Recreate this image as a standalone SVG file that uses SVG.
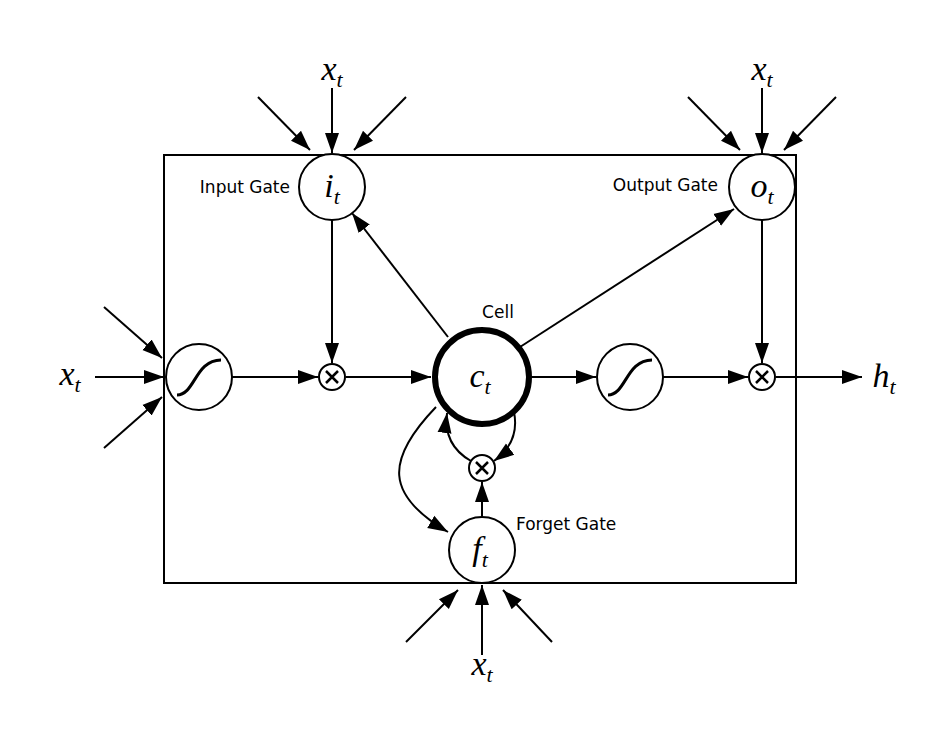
<svg xmlns="http://www.w3.org/2000/svg" width="948" height="750" viewBox="0 0 948 750">
<defs><marker id="a" viewBox="0 0 10 10" refX="10" refY="5" markerWidth="8" markerHeight="8" markerUnits="userSpaceOnUse" orient="auto"><path d="M0,0L10,5L0,10z" fill="#000"/></marker>
<marker id="b" viewBox="0 0 10 10" refX="10" refY="5" markerWidth="20" markerHeight="20" markerUnits="userSpaceOnUse" orient="auto"><path d="M0,1.5L10,5L0,8.5z" fill="#000"/></marker></defs>
<style>
.n{fill:#fff;stroke:#000;stroke-width:2}
.c line,.c path{stroke:#000;stroke-width:2;fill:none;marker-end:url(#b)}
.l{font-family:"DejaVu Sans",sans-serif;font-size:17px}
.m{font-family:"Liberation Serif",serif;font-style:italic;font-size:34px}
.s{font-size:22px}
</style>
<rect x="164" y="155" width="632" height="428" fill="#fff" stroke="#000" stroke-width="2"/>
<g class="c">
<line x1="332" y1="88" x2="332" y2="153"/><line x1="258" y1="97" x2="310" y2="150"/><line x1="406" y1="97" x2="354" y2="150"/>
<line x1="762" y1="88" x2="762" y2="153"/><line x1="688" y1="97" x2="740" y2="150"/><line x1="836" y1="97" x2="784" y2="150"/>
<line x1="95" y1="377" x2="164" y2="377"/><line x1="104" y1="307" x2="162" y2="358"/><line x1="104" y1="448" x2="162" y2="397"/>
<line x1="482" y1="655" x2="482" y2="585"/><line x1="406" y1="642" x2="458" y2="590"/><line x1="552" y1="642" x2="503" y2="590"/>
<line x1="232" y1="377" x2="318" y2="377"/><line x1="332" y1="220" x2="332" y2="363"/><line x1="346" y1="377" x2="431" y2="377"/>
<line x1="448" y1="337" x2="352" y2="213"/><line x1="520" y1="347" x2="734" y2="209"/>
<line x1="531" y1="377" x2="596" y2="377"/><line x1="663" y1="377" x2="748" y2="377"/><line x1="762" y1="220" x2="762" y2="363"/>
<line x1="776" y1="377" x2="862" y2="377"/>
<line x1="482" y1="517" x2="482" y2="482"/>
<path d="M471,461 Q443,445 447,413"/>
<path d="M514,412 Q520,442 494,461"/>
<path d="M436,407 C385,460 385,495 448,532"/>
</g>
<g id="input"><circle class="n" cx="332" cy="187" r="33"/><text class="m" x="332" y="197" text-anchor="middle">i<tspan class="s" dy="7">t</tspan></text></g>
<g id="output"><circle class="n" cx="762" cy="187" r="33"/><text class="m" x="762" y="197" text-anchor="middle">o<tspan class="s" dy="7">t</tspan></text></g>
<g id="tanh1"><circle class="n" cx="199" cy="377" r="33"/><path d="M177,395 C195,395 195,360 221,360" fill="none" stroke="#000" stroke-width="3"/></g>
<g id="tanh2"><circle class="n" cx="630" cy="377" r="33"/><path d="M608,395 C626,395 626,360 652,360" fill="none" stroke="#000" stroke-width="3"/></g>
<g id="mul1"><circle class="n" cx="332" cy="377" r="13"/><path d="M326,371L338,383M338,371L326,383" stroke="#000" stroke-width="2.5"/></g>
<g id="mul2"><circle class="n" cx="762" cy="377" r="13"/><path d="M756,371L768,383M768,371L756,383" stroke="#000" stroke-width="2.5"/></g>
<g id="mul3"><circle class="n" cx="482" cy="468" r="13"/><path d="M476,462L488,474M488,462L476,474" stroke="#000" stroke-width="2.5"/></g>
<g id="cell"><circle cx="482" cy="377" r="47" fill="#fff" stroke="#000" stroke-width="6"/><text class="m" x="480" y="387" text-anchor="middle">c<tspan class="s" dy="7">t</tspan></text></g>
<g id="forget"><circle class="n" cx="482" cy="550" r="33"/><text class="m" x="480" y="560" text-anchor="middle">f<tspan class="s" dy="7">t</tspan></text></g>
<g id="labels">
<text class="l" x="290" y="193" text-anchor="end">Input Gate</text>
<text class="l" x="718" y="191" text-anchor="end">Output Gate</text>
<text class="l" x="498" y="318" text-anchor="middle">Cell</text>
<text class="l" x="516" y="530">Forget Gate</text>
<text class="m" x="332" y="80" text-anchor="middle">x<tspan class="s" dy="7">t</tspan></text>
<text class="m" x="762" y="80" text-anchor="middle">x<tspan class="s" dy="7">t</tspan></text>
<text class="m" x="70" y="385" text-anchor="middle">x<tspan class="s" dy="7">t</tspan></text>
<text class="m" x="482" y="675" text-anchor="middle">x<tspan class="s" dy="7">t</tspan></text>
<text class="m" x="884" y="387" text-anchor="middle">h<tspan class="s" dy="7">t</tspan></text>
</g>
</svg>
